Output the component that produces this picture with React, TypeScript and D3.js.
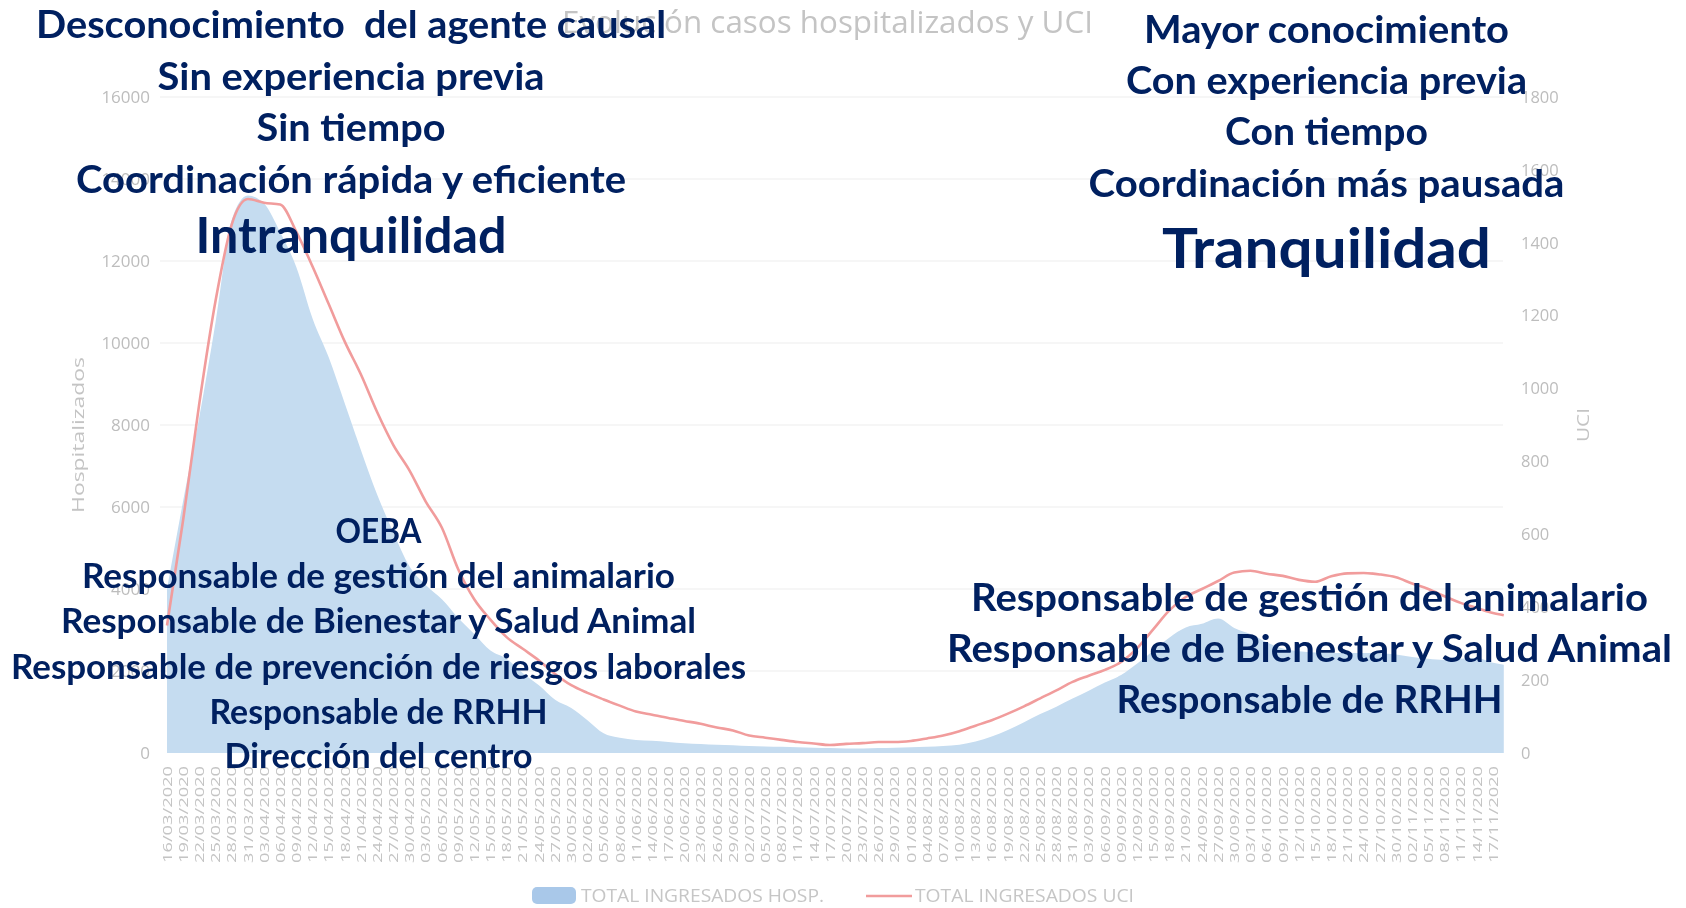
import React, { useEffect, useRef } from 'react';
import * as d3 from 'd3';

// eje x: una etiqueta cada 3 dias
const fechaInicio = new Date(2020, 2, 16);
const fechaFin = new Date(2020, 10, 17);
const pasoDias = 3;
const fechaUltimoDato = new Date(2020, 10, 19);

const hospitalizados = [
    4000, 6150, 8200, 10500, 13000, 13600, 13400, 12700, 11850, 10600,
    9650, 8520, 7380, 6300, 5380, 4550, 4100, 3750, 3300, 2900,
    2500, 2300, 1950, 1650, 1300, 1100, 800, 480, 370, 320,
    300, 270, 240, 220, 200, 190, 170, 160, 150, 140,
    130, 120, 110, 110, 120, 130, 140, 150, 170, 200,
    280, 400, 560, 750, 950, 1130, 1330, 1520, 1720, 1900,
    2180, 2500, 2820, 3060, 3150, 3280, 3050, 2900, 2700, 2550,
    2480, 2450, 2440, 2440, 2440, 2430, 2400, 2340, 2300, 2270,
    2300, 2320, 2200, 2150
];

const uci = [
    350, 640, 960, 1240, 1450, 1520, 1510, 1505, 1430, 1335,
    1232, 1128, 1038, 935, 845, 775, 690, 618, 505, 422,
    366, 318, 286, 254, 217, 186, 165, 147, 130, 114,
    105, 96, 88, 80, 70, 62, 48, 42, 36, 30,
    26, 22, 25, 27, 30, 30, 33, 40, 48, 60,
    75, 90, 108, 128, 150, 172, 195, 212, 228, 250,
    288, 340, 392, 428, 450, 472, 495, 500, 492, 486,
    475, 470, 485, 493, 494, 490, 482, 465, 450, 430,
    412, 398, 384, 378
];

const ticksHosp = [0, 2000, 4000, 6000, 8000, 10000, 12000, 14000, 16000];
const ticksUci = [0, 200, 400, 600, 800, 1000, 1200, 1400, 1600, 1800];

const titulo = 'Evolución casos hospitalizados y UCI';
const tituloHosp = 'Hospitalizados';
const tituloUci = 'UCI';
const leyenda = ['TOTAL INGRESADOS HOSP.', 'TOTAL INGRESADOS UCI'];

const bloqueIzqArriba = ['Desconocimiento  del agente causal', 'Sin experiencia previa', 'Sin tiempo', 'Coordinación rápida y eficiente', 'Intranquilidad'];
const bloqueDerArriba = ['Mayor conocimiento', 'Con experiencia previa', 'Con tiempo', 'Coordinación más pausada', 'Tranquilidad'];
const bloqueIzqAbajo = ['OEBA', 'Responsable de gestión del animalario', 'Responsable de Bienestar y Salud Animal', 'Responsable de prevención de riesgos laborales', 'Responsable de RRHH', 'Dirección del centro'];
const bloqueDerAbajo = ['Responsable de gestión del animalario', 'Responsable de Bienestar y Salud Animal', 'Responsable de RRHH'];

const fuenteGrafico = '"Open Sans", "DejaVu Sans", sans-serif';
const fuenteTexto = 'Lato, "Open Sans", sans-serif';

export default function App() {
    const ref = useRef<SVGSVGElement>(null);

    useEffect(() => {
        const svg = d3.select(ref.current);
        svg.selectAll('*').remove();

        const yBase = 753, yTop = 97;
        const tickDates = d3.timeDay.range(fechaInicio, d3.timeDay.offset(fechaFin, 1), pasoDias);
        const seriesDates = [...tickDates, fechaUltimoDato];
        const datos = seriesDates.map((f, i) => ({ fecha: f, hosp: hospitalizados[i], uci: uci[i] }));

        const x = d3.scaleTime().domain([fechaInicio, fechaFin]).range([167, 1493]);
        const yHosp = d3.scaleLinear().domain([0, 16000]).range([yBase, yTop]);
        const yUci = d3.scaleLinear().domain([0, 1800]).range([yBase, yTop]);
        const fmt = d3.timeFormat('%d/%m/%Y');

        svg.append('defs').append('filter').attr('id', 'suave')
            .append('feGaussianBlur').attr('stdDeviation', 0.6);

        const chart = svg.append('g').attr('filter', 'url(#suave)')
            .attr('font-family', fuenteGrafico);

        chart.append('g').selectAll('line')
            .data(ticksHosp.slice(1))
            .join('line')
            .attr('x1', 160).attr('x2', 1503)
            .attr('y1', d => yHosp(d)).attr('y2', d => yHosp(d))
            .attr('stroke', '#ededed');

        chart.append('text')
            .attr('x', 562).attr('y', 33)
            .attr('font-size', 31)
            .attr('fill', '#c4c4c4')
            .attr('textLength', 531).attr('lengthAdjust', 'spacingAndGlyphs')
            .text(titulo);

        const area = d3.area<any>()
            .x(d => x(d.fecha))
            .y0(yBase)
            .y1(d => yHosp(d.hosp))
            .curve(d3.curveMonotoneX);
        chart.append('path').datum(datos).attr('d', area).attr('fill', '#c5dcf0');

        const linea = d3.line<any>()
            .x(d => x(d.fecha))
            .y(d => yUci(d.uci))
            .curve(d3.curveMonotoneX);
        chart.append('path').datum(datos).attr('d', linea)
            .attr('fill', 'none').attr('stroke', '#f19c9c').attr('stroke-width', 2.6);

        chart.append('g').selectAll('text')
            .data(ticksHosp)
            .join('text')
            .attr('x', 150).attr('y', d => yHosp(d)).attr('dy', '0.35em')
            .attr('text-anchor', 'end').attr('font-size', 17).attr('fill', '#bdbdbd')
            .text(d => d);

        chart.append('g').selectAll('text')
            .data(ticksUci)
            .join('text')
            .attr('x', 1521).attr('y', d => yUci(d)).attr('dy', '0.35em')
            .attr('font-size', 16.5).attr('fill', '#bdbdbd')
            .text(d => d);

        chart.append('g').selectAll('text')
            .data(tickDates)
            .join('text')
            .attr('transform', d => `translate(${x(d)},766) rotate(-90)`)
            .attr('dy', '0.35em').attr('text-anchor', 'end')
            .attr('font-size', 13.5).attr('fill', '#c4c4c4')
            .attr('textLength', 97).attr('lengthAdjust', 'spacingAndGlyphs')
            .text(d => fmt(d));

        chart.append('text')
            .attr('transform', 'translate(78,435) rotate(-90)')
            .attr('dy', '0.35em').attr('text-anchor', 'middle')
            .attr('font-size', 17).attr('fill', '#c4c4c4')
            .attr('textLength', 156).attr('lengthAdjust', 'spacingAndGlyphs')
            .text(tituloHosp);
        chart.append('text')
            .attr('transform', 'translate(1583,425) rotate(-90)')
            .attr('dy', '0.35em').attr('text-anchor', 'middle')
            .attr('font-size', 17).attr('fill', '#c4c4c4')
            .attr('textLength', 34).attr('lengthAdjust', 'spacingAndGlyphs')
            .text(tituloUci);

        // leyenda
        chart.append('rect')
            .attr('x', 532).attr('y', 887).attr('width', 44).attr('height', 17).attr('rx', 5)
            .attr('fill', '#a9c8e9');
        chart.append('text')
            .attr('x', 581).attr('y', 902).attr('font-size', 18.5).attr('fill', '#c6c6c6')
            .attr('textLength', 243).attr('lengthAdjust', 'spacingAndGlyphs')
            .text(leyenda[0]);
        chart.append('line')
            .attr('x1', 866).attr('x2', 912).attr('y1', 896).attr('y2', 896)
            .attr('stroke', '#f19c9c').attr('stroke-width', 2.6);
        chart.append('text')
            .attr('x', 915).attr('y', 902).attr('font-size', 18.5).attr('fill', '#c6c6c6')
            .attr('textLength', 219).attr('lengthAdjust', 'spacingAndGlyphs')
            .text(leyenda[1]);

        // textos superpuestos
        const anotaciones = [
            { lineas: bloqueIzqArriba, cx: 351, ys: [38, 90, 141, 192.5, 253], sizes: [38, 38, 38, 38, 49], lens: [630, 387, 189, 550, 311] },
            { lineas: bloqueDerArriba, cx: 1326.5, ys: [43, 93.5, 145, 197, 268], sizes: [38, 38, 38, 38, 56], lens: [365, 401, 203, 476, 329] },
            { lineas: bloqueIzqAbajo, cx: 378.5, ys: [543, 588, 633, 678.5, 724, 768], sizes: [33.5, 33.5, 33.5, 33.5, 33.5, 33.5], lens: [86, 593, 635, 735, 338, 308] },
            { lineas: bloqueDerAbajo, cx: 1309.5, ys: [611, 662, 713], sizes: [38, 38, 38], lens: [677, 725, 386] }
        ];
        const textos = svg.append('g').attr('font-family', fuenteTexto).attr('font-weight', 700).attr('fill', '#002060');
        anotaciones.forEach(b => {
            b.lineas.forEach((l, i) => {
                textos.append('text')
                    .attr('x', b.cx).attr('y', b.ys[i])
                    .attr('text-anchor', 'middle')
                    .attr('font-size', b.sizes[i])
                    .attr('textLength', b.lens[i]).attr('lengthAdjust', 'spacingAndGlyphs')
                    .style('white-space', 'pre')
                    .text(l);
            });
        });
    }, []);

    return (
        <svg ref={ref} width={1686} height={908}
            style={{ position: 'absolute', left: 0, top: 0, display: 'block', background: '#fff' }} />
    );
}
